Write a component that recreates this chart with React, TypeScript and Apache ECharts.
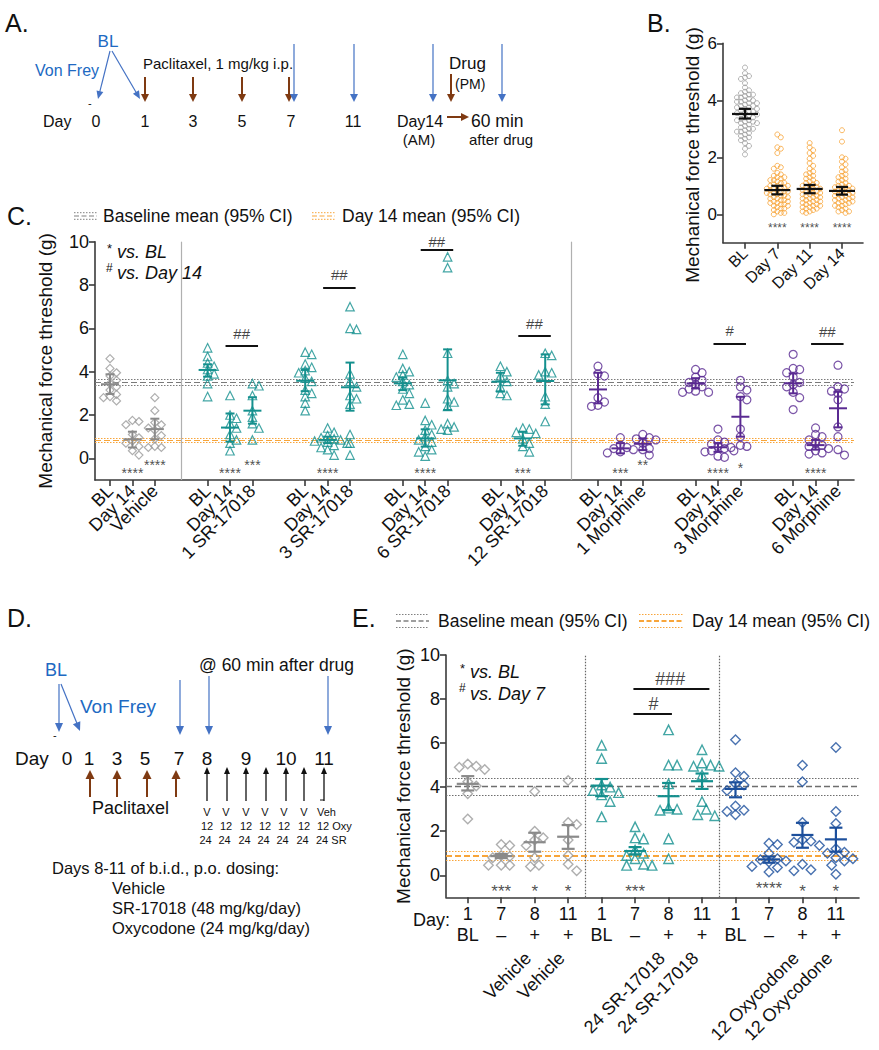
import React, { useEffect, useRef } from 'react';
import * as echarts from 'echarts';

const FONT = 'Liberation Sans, Arial, Helvetica, sans-serif';

// ---------------- Panel B data ----------------
const B_CATS = ['BL', 'Day 7', 'Day 11', 'Day 14'];
const B_BL = [5.15, 4.95, 4.85, 4.8, 4.75, 4.6, 4.45, 4.35, 4.3, 4.25, 4.2, 4.2, 4.15, 4.1, 4.05, 4.0, 4.0, 3.95, 3.9, 3.9, 3.85, 3.8, 3.8, 3.75, 3.7, 3.7, 3.65, 3.6, 3.6, 3.55, 3.5, 3.5, 3.45, 3.4, 3.4, 3.35, 3.3, 3.3, 3.25, 3.2, 3.2, 3.15, 3.1, 3.05, 3.0, 3.0, 2.95, 2.9, 2.85, 2.8, 2.75, 2.7, 2.65, 2.6, 2.5, 2.4, 2.3, 2.1, 3.75, 3.55, 3.25, 2.9, 4.1, 3.95];
const B_D7 = [2.8, 2.7, 2.35, 2.3, 2.15, 1.7, 1.65, 1.6, 1.45, 1.4, 1.35, 1.3, 1.3, 1.25, 1.2, 1.2, 1.15, 1.1, 1.1, 1.05, 1.0, 1.0, 1.0, 0.95, 0.95, 0.9, 0.9, 0.85, 0.85, 0.8, 0.8, 0.8, 0.75, 0.75, 0.7, 0.7, 0.65, 0.65, 0.6, 0.6, 0.55, 0.55, 0.5, 0.5, 0.45, 0.45, 0.4, 0.4, 0.35, 0.35, 0.3, 0.3, 0.25, 0.2, 0.2, 0.15, 0.1, 0.05, 0.05, 0.0];
const B_D11 = [2.5, 2.35, 2.25, 2.15, 2.05, 1.95, 1.8, 1.7, 1.6, 1.5, 1.45, 1.4, 1.35, 1.3, 1.25, 1.2, 1.15, 1.1, 1.1, 1.05, 1.0, 1.0, 0.95, 0.95, 0.9, 0.9, 0.85, 0.85, 0.8, 0.8, 0.75, 0.75, 0.7, 0.7, 0.65, 0.65, 0.6, 0.6, 0.55, 0.55, 0.5, 0.5, 0.45, 0.45, 0.4, 0.4, 0.35, 0.35, 0.3, 0.3, 0.25, 0.25, 0.2, 0.2, 0.15, 0.1, 0.1, 0.05];
const B_D14 = [2.95, 2.55, 2.0, 1.95, 1.85, 1.75, 1.65, 1.55, 1.5, 1.4, 1.35, 1.3, 1.25, 1.2, 1.15, 1.1, 1.05, 1.0, 1.0, 0.95, 0.95, 0.9, 0.9, 0.85, 0.85, 0.8, 0.8, 0.75, 0.75, 0.7, 0.7, 0.65, 0.65, 0.6, 0.6, 0.55, 0.55, 0.5, 0.5, 0.45, 0.45, 0.4, 0.4, 0.35, 0.3, 0.3, 0.25, 0.2, 0.15, 0.1, 0.1, 0.05];
const B_MEAN = [3.52, 0.85, 0.89, 0.82];
const B_LOW = [3.36, 0.7, 0.74, 0.69];
const B_HIGH = [3.7, 1.0, 1.03, 0.96];
const B_STARS = ['', '****', '****', '****'];

// ---------------- Panel C data ----------------
const C_GROUPS = ['Vehicle', '1 SR-17018', '3 SR-17018', '6 SR-17018', '12 SR-17018', '1 Morphine', '3 Morphine', '6 Morphine'];
const C_COLS = ['BL', 'Day 14'];
const C_BL = [
  [4.6, 4.15, 3.95, 3.8, 3.6, 3.45, 3.3, 3.15, 2.95, 2.85, 2.8, 2.65],
  [5.1, 4.7, 4.4, 4.25, 4.1, 3.9, 3.8, 3.45, 2.85],
  [4.9, 4.8, 4.35, 4.2, 4.05, 3.95, 3.7, 3.55, 3.15, 3.0, 2.85, 2.55, 2.2],
  [4.8, 4.15, 4.0, 3.85, 3.75, 3.55, 3.4, 3.2, 3.0, 2.7, 2.5, 2.45],
  [4.25, 4.0, 3.8, 3.55, 3.3, 3.0, 2.9],
  [4.25, 3.9, 3.8, 2.8, 2.6, 2.45, 2.4],
  [4.1, 3.95, 3.75, 3.6, 3.5, 3.4, 3.3, 3.2, 3.1, 3.05, 3.05],
  [4.8, 4.15, 4.1, 3.95, 3.75, 3.5, 3.4, 3.3, 3.05, 2.8, 2.25],
];
const C_D14 = [
  [1.75, 1.7, 1.55, 1.1, 0.95, 0.8, 0.7, 0.55, 0.35, 0.15],
  [2.9, 2.0, 1.85, 1.6, 1.4, 1.1, 0.85, 0.7, 0.35],
  [1.4, 1.2, 1.05, 0.95, 0.9, 0.85, 0.8, 0.75, 0.7, 0.6, 0.5, 0.4, 0.15],
  [2.55, 1.75, 1.55, 1.3, 1.1, 1.0, 0.85, 0.75, 0.55, 0.4, 0.3, 0.1],
  [1.4, 1.35, 1.2, 1.15, 0.9, 0.7, 0.55, 0.3],
  [0.95, 0.6, 0.5, 0.45, 0.4, 0.3, 0.25],
  [1.35, 0.85, 0.75, 0.65, 0.55, 0.5, 0.45, 0.35, 0.3, 0.1, 0.05],
  [1.4, 1.1, 1.0, 0.85, 0.7, 0.6, 0.55, 0.45, 0.35, 0.25, 0.2],
];
const C_DRUG = [
  [2.8, 2.2, 1.65, 1.55, 1.4, 1.3, 1.05, 0.9, 0.55, 0.5, 0.5],
  [3.45, 3.35, 2.9, 2.2, 1.9, 1.6, 1.4, 0.85],
  [7.0, 6.0, 5.95, 3.9, 3.55, 3.3, 2.9, 2.75, 2.5, 1.1, 0.7, 0.15],
  [9.3, 8.8, 4.85, 3.6, 3.45, 3.3, 2.75, 2.6, 2.4, 1.6, 1.45, 1.35, 1.3],
  [4.85, 4.75, 4.0, 3.95, 3.85, 2.85, 2.5, 1.7],
  [1.1, 0.95, 0.9, 0.85, 0.7, 0.45, 0.4, 0.15],
  [3.6, 3.3, 3.15, 2.85, 2.7, 1.35, 1.0, 0.6, 0.55, 0.35],
  [4.3, 3.3, 3.2, 3.1, 3.0, 2.7, 1.45, 1.0, 0.4, 0.15],
];
const C_MEAN = [[3.42, 0.88, 1.35], [4.08, 1.42, 2.2], [3.58, 0.85, 3.28], [3.46, 0.92, 3.6], [3.54, 0.92, 3.57], [3.18, 0.46, 0.67], [3.46, 0.51, 1.92], [3.46, 0.61, 2.31]];
const C_LOW = [[2.97, 0.5, 0.88], [3.77, 0.77, 1.6], [3.1, 0.7, 2.2], [3.15, 0.54, 2.23], [3.08, 0.58, 2.49], [2.54, 0.23, 0.38], [3.23, 0.3, 1.0], [3.0, 0.4, 1.43]];
const C_HIGH = [[3.88, 1.23, 1.83], [4.34, 2.07, 2.82], [4.08, 1.0, 4.42], [3.74, 1.34, 5.03], [3.95, 1.23, 4.8], [3.95, 0.7, 0.92], [3.7, 0.7, 2.84], [3.92, 0.85, 3.07]];
const C_STARS = [['', '****', '****'], ['', '****', '***'], ['', '****', ''], ['', '****', ''], ['', '***', ''], ['', '***', '**'], ['', '****', '*'], ['', '****', '']];
const C_BRACKETS = [
  { g: 1, y: 5.22, ty: 5.76, t: '##' }, { g: 2, y: 7.88, ty: 8.5, t: '##' }, { g: 3, y: 9.62, ty: 10.0, t: '##' },
  { g: 4, y: 5.64, ty: 6.22, t: '##' }, { g: 6, y: 5.31, ty: 5.88, t: '#' }, { g: 7, y: 5.27, ty: 5.84, t: '##' },
];
const C_BASE = { mean: 3.52, lo: 3.38, hi: 3.67 };
const C_D14REF = { mean: 0.84, lo: 0.74, hi: 0.94 };

// ---------------- Panel E data ----------------
const E_GROUPS = ['Vehicle', '24 SR-17018', '12 Oxycodone'];
const E_DAYS = ['1', '7', '8', '11'];
const E_TRT = ['BL', '\u2013', '+', '+'];
const E_VALS = [
  [[5.05, 4.95, 4.9, 4.8, 4.25, 4.05, 3.7, 2.55], [1.4, 1.35, 0.9, 0.85, 0.8, 0.45, 0.45, 0.45], [3.8, 2.0, 1.7, 1.6, 1.35, 0.8, 0.45, 0.4], [4.3, 2.4, 2.3, 1.6, 0.9, 0.5, 0.2]],
  [[5.9, 5.3, 4.1, 4.0, 3.85, 3.75, 3.65, 3.35, 2.65], [2.2, 1.7, 1.65, 1.15, 1.0, 0.9, 0.75, 0.5, 0.45, 0.45], [6.6, 5.0, 5.0, 4.15, 3.05, 3.0, 2.95, 1.65, 0.75], [5.7, 5.1, 5.0, 4.95, 4.95, 4.55, 3.35, 3.0, 2.75, 2.7]],
  [[6.15, 4.65, 4.5, 4.15, 4.1, 3.85, 3.15, 2.95, 2.9, 2.75], [1.45, 1.4, 1.0, 0.75, 0.7, 0.65, 0.6, 0.4, 0.35, 0.15], [5.0, 4.25, 2.4, 1.6, 1.55, 1.5, 1.35, 0.5, 0.25, 0.2], [5.8, 2.9, 2.35, 1.2, 1.05, 1.0, 0.8, 0.75, 0.65, 0.45, 0.05]],
];
const E_MEAN = [[4.15, 0.87, 1.5, 1.75], [4.07, 1.1, 3.59, 4.27], [3.92, 0.72, 1.83, 1.63]];
const E_LOW = [[3.85, 0.78, 1.07, 1.2], [3.59, 0.95, 2.96, 3.92], [3.54, 0.57, 1.25, 1.07]];
const E_HIGH = [[4.5, 0.97, 1.93, 2.28], [4.37, 1.28, 4.19, 4.62], [4.22, 0.85, 2.38, 2.16]];
const E_STARS = [['', '***', '*', '*'], ['', '***', '', ''], ['', '****', '*', '*']];
const E_BRACKETS = [
  { g: 1, c1: 1, c2: 3, y: 8.45, t: '###' },
  { g: 1, c1: 1, c2: 2, y: 7.32, t: '#' },
];
const E_BASE = { mean: 4.03, lo: 3.62, hi: 4.39 };
const E_D7REF = { mean: 0.87, lo: 0.66, hi: 1.07 };

// ---------------- styles ----------------
const GRAY = '#9a9a9a';
const GRAY_BAR = '#8a8a8a';
const TEAL = '#14908e';
const PURPLE = '#5a2a92';
const ORANGE = '#f8a53a';
const OXY = '#1c4f9c';
const AXIS = '#3a3a3a';
const BLUE_T = '#2069c2';
const BLUE_A = '#4472c4';
const BROWN = '#7f3a12';

const C_STEP = 4.355;
const cPos = (g: number, c: number) => g * C_STEP + c;
const ePos = (g: number, c: number) => g * 4 + c;

// beeswarm layout (pixel space) -> data coords
function swarm(vals: number[], cx: number, pxX: number, pxY: number, d: number) {
  const sorted = [...vals].sort((a, b) => b - a);
  const placed: { x: number; y: number }[] = [];
  const out: number[][] = [];
  for (const v of sorted) {
    const py = v * pxY;
    let px = 0;
    for (let i = 0; i < 400; i++) {
      const off = (i === 0 ? 0 : (i % 2 === 1 ? 1 : -1) * Math.ceil(i / 2)) * d * 0.5;
      if (placed.every((p) => Math.hypot(p.x - off, p.y - py) >= d)) { px = off; break; }
    }
    placed.push({ x: px, y: py });
    out.push([cx + px / pxX, v]);
  }
  return out;
}

function scatter(xi: number, yi: number, data: number[][], symbol: string, size: number, color: string, bw = 1.2) {
  return {
    type: 'scatter', xAxisIndex: xi, yAxisIndex: yi, data, symbol, symbolSize: size, silent: true, z: 3, clip: false,
    itemStyle: { color: 'rgba(0,0,0,0)', borderColor: color, borderWidth: bw },
  };
}

function errSeries(xi: number, yi: number, data: number[][], color: string, hw: number, cw: number, lw: number) {
  return {
    type: 'custom', xAxisIndex: xi, yAxisIndex: yi, data, silent: true, z: 5, clip: false,
    renderItem: (_p: any, api: any) => {
      const x = api.value(0), m = api.value(1), lo = api.value(2), hi = api.value(3);
      const a = api.coord([x, m]), b = api.coord([x, lo]), c = api.coord([x, hi]);
      const st = { stroke: color, lineWidth: lw };
      return {
        type: 'group', children: [
          { type: 'line', shape: { x1: a[0] - hw, y1: a[1], x2: a[0] + hw, y2: a[1] }, style: st },
          { type: 'line', shape: { x1: c[0], y1: c[1], x2: b[0], y2: b[1] }, style: st },
          { type: 'line', shape: { x1: c[0] - cw, y1: c[1], x2: c[0] + cw, y2: c[1] }, style: st },
          { type: 'line', shape: { x1: b[0] - cw, y1: b[1], x2: b[0] + cw, y2: b[1] }, style: st },
        ],
      };
    },
  };
}

function textSeries(xi: number, yi: number, items: { x: number; y: number; t: string }[], size: number, color: string, markLine?: any) {
  const s: any = {
    type: 'scatter', xAxisIndex: xi, yAxisIndex: yi, symbolSize: 1, silent: true, z: 6, clip: false,
    itemStyle: { color: 'rgba(0,0,0,0)' },
    data: items.map((it) => ({ value: [it.x, it.y], name: it.t })),
    label: { show: true, position: 'inside', formatter: '{b}', fontSize: size, color, fontFamily: FONT },
  };
  if (markLine) s.markLine = markLine;
  return s;
}

function refLines(ref: { mean: number; lo: number; hi: number }, color: string, w: number) {
  return [
    { yAxis: ref.mean, lineStyle: { color, width: w, type: [6, 3] } },
    { yAxis: ref.lo, lineStyle: { color, width: 1, type: [1.5, 1.5] } },
    { yAxis: ref.hi, lineStyle: { color, width: 1, type: [1.5, 1.5] } },
  ];
}

// ---------------- graphic helpers ----------------
function T(text: string, x: number, y: number, size: number, o: any = {}) {
  return {
    type: 'text', x, y, rotation: o.rot || 0, silent: true, z: 100,
    style: {
      text, fill: o.color || '#111', fontSize: size, fontFamily: FONT,
      fontStyle: o.italic ? 'italic' : 'normal',
      textAlign: o.align || 'left', textVerticalAlign: o.valign || 'middle',
      align: o.align || 'left', verticalAlign: o.valign || 'middle',
    },
  };
}
function L(x1: number, y1: number, x2: number, y2: number, color: string, w = 1, dash?: number[]) {
  const style: any = { stroke: color, lineWidth: w };
  if (dash) style.lineDash = dash;
  return { type: 'line', silent: true, z: 100, shape: { x1, y1, x2, y2 }, style };
}
function ARROW(x1: number, y1: number, x2: number, y2: number, color: string, w = 1.2, hl = 8, hw = 3.5) {
  const dx = x2 - x1, dy = y2 - y1, len = Math.hypot(dx, dy);
  const ux = dx / len, uy = dy / len;
  const bx = x2 - ux * hl, by = y2 - uy * hl;
  const px = -uy, py = ux;
  return [
    L(x1, y1, bx + ux, by + uy, color, w),
    { type: 'polygon', silent: true, z: 100, shape: { points: [[x2, y2], [bx + px * hw, by + py * hw], [bx - px * hw, by - py * hw]] }, style: { fill: color } },
  ];
}
function legendIcon(x1: number, x2: number, y: number, gap: number, color: string, w: number) {
  return [
    L(x1, y - gap, x2, y - gap, color, 1, [1.5, 1.5]),
    L(x1, y, x2, y, color, w, [5, 2.5]),
    L(x1, y + gap, x2, y + gap, color, 1, [1.5, 1.5]),
  ];
}

const Y_NAME = 'Mechanical force threshold (g)';

function buildGraphics() {
  const g: any[] = [];
  // ---- Panel A ----
  g.push(T('A.', 5, 23, 25));
  g.push(T('BL', 108, 41, 17, { color: BLUE_T, align: 'center' }));
  g.push(T('Von Frey', 35, 70, 16, { color: BLUE_T }));
  g.push(...ARROW(110, 51, 98, 99, BLUE_A, 1.2, 8, 3.5));
  g.push(...ARROW(112, 51, 140, 99, BLUE_A, 1.2, 8, 3.5));
  g.push(T('-', 88, 103, 11));
  g.push(T('Day', 43, 121, 16));
  [['0', 96], ['1', 145], ['3', 193], ['5', 242], ['7', 291], ['11', 353]].forEach(([t, x]) => g.push(T(t as string, x as number, 121, 16, { align: 'center' })));
  g.push(T('Day14', 420, 121, 16, { align: 'center' }));
  g.push(T('(AM)', 419, 139, 15, { align: 'center' }));
  g.push(T('Paclitaxel, 1 mg/kg i.p.', 143, 63, 15));
  [145, 193, 242, 289].forEach((x) => g.push(...ARROW(x, 77, x, 102, BROWN, 2, 8, 4)));
  [294, 354, 433, 502].forEach((x) => g.push(...ARROW(x, 44, x, 102, BLUE_A, 1.2, 8, 4)));
  g.push(...ARROW(451, 74, 451, 102, BROWN, 2, 8, 4));
  g.push(T('Drug', 449, 63, 17));
  g.push(T('(PM)', 455, 84, 14));
  g.push(...ARROW(447, 117, 469, 117, BROWN, 2, 8, 4));
  g.push(T('60 min', 471, 121, 17.5));
  g.push(T('after drug', 469, 139, 15));

  // ---- Panel B ----
  g.push(T('B.', 647, 23, 25));
  g.push(T(Y_NAME, 692, 155, 19, { align: 'center', rot: Math.PI / 2 }));

  // ---- Panel C ----
  g.push(T('C.', 7, 216, 25));
  g.push(...legendIcon(74, 97, 216, 3.3, '#808080', 1.2));
  g.push(T('Baseline mean (95% CI)', 103, 216, 17.5));
  g.push(...legendIcon(312, 335, 216, 3.3, ORANGE, 1.2));
  g.push(T('Day 14 mean (95% CI)', 342, 216, 17.5));
  g.push(T('*', 107, 248, 13));
  g.push(T('vs. BL', 117, 252, 18, { italic: true }));
  g.push(T('#', 106, 268, 12));
  g.push(T('vs. Day 14', 117, 273, 18, { italic: true }));

  // ---- Panel D ----
  g.push(T('D.', 7, 618, 25));
  g.push(T('BL', 56, 670, 18, { color: BLUE_T, align: 'center' }));
  g.push(...ARROW(59, 684, 59, 732, BLUE_A, 1.2, 9, 4));
  g.push(...ARROW(61, 684, 80, 731, BLUE_A, 1.2, 9, 4));
  g.push(T('Von Frey', 80, 706, 19, { color: BLUE_T }));
  g.push(T('-', 53, 735, 11));
  g.push(T('@ 60 min after drug', 199, 665, 17.5));
  [180, 209, 328].forEach((x, i) => g.push(...ARROW(x, i === 0 ? 680 : 676, x, 735, BLUE_A, 1.2, 9, 4)));
  g.push(T('Day', 15, 758, 19));
  [['0', 67], ['1', 89], ['3', 117], ['5', 145], ['7', 179], ['8', 207], ['9', 246], ['10', 286], ['11', 324]].forEach(([t, x]) => g.push(T(t as string, x as number, 758, 19, { align: 'center' })));
  [90, 117, 147, 176].forEach((x) => g.push(...ARROW(x, 797, x, 770, BROWN, 2, 9, 4.5)));
  g.push(T('Paclitaxel', 92, 808, 18));
  [207, 227, 246, 266, 286, 304, 324].forEach((x) => g.push(...ARROW(x, 801, x, 767, '#111', 1.3, 7, 3)));
  g.push(L(320, 800, 324, 800, '#111', 1));
  [207, 226, 246, 265, 284, 304].forEach((x) => {
    g.push(T('V', x, 812, 11, { align: 'center' }));
    g.push(T('12', x, 826, 11, { align: 'center' }));
    g.push(T('24', x - 1.5, 840, 11, { align: 'center' }));
  });
  g.push(T('Veh', 317, 812, 11));
  g.push(T('12 Oxy', 317, 826, 11));
  g.push(T('24 SR', 316, 840, 11));
  g.push(T('Days 8-11 of b.i.d., p.o. dosing:', 52, 868, 16.5));
  g.push(T('Vehicle', 112, 888, 16.5));
  g.push(T('SR-17018 (48 mg/kg/day)', 112, 908, 16.5));
  g.push(T('Oxycodone (24 mg/kg/day)', 112, 928, 16.5));

  // ---- Panel E ----
  g.push(T('E.', 352, 618, 25));
  g.push(...legendIcon(396, 429, 621, 6.5, '#808080', 1.5));
  g.push(T('Baseline mean (95% CI)', 438, 621, 17.5));
  g.push(...legendIcon(639, 683, 621, 6.5, ORANGE, 2.2));
  g.push(T('Day 14 mean (95% CI)', 692, 621, 17.5));
  g.push(T('*', 460, 668, 13));
  g.push(T('vs. BL', 470, 672, 18, { italic: true }));
  g.push(T('#', 459, 688, 12));
  g.push(T('vs. Day 7', 470, 694, 18, { italic: true }));
  g.push(T('Day:', 413, 920, 18));
  return g;
}

function buildOption() {
  const series: any[] = [];

  // ---------- Panel B ----------
  const bVals = [B_BL, B_D7, B_D11, B_D14];
  bVals.forEach((vals, i) => {
    series.push(scatter(0, 0, swarm(vals, i, 32.3, 28.5, i === 0 ? 4.0 : 3.5), 'circle', 5, i === 0 ? '#a0a0a0' : ORANGE, 1));
  });
  series.push(errSeries(0, 0, B_MEAN.map((m, i) => [i, m, B_LOW[i], B_HIGH[i]]), '#111', 13, 6, 2.2));
  series.push(textSeries(0, 0, B_STARS.map((t, i) => ({ x: i, y: -0.37 - 0.12, t })).filter((d) => d.t), 12, '#222'));

  // ---------- Panel C ----------
  const cColor = (g: number) => (g === 0 ? GRAY : g <= 4 ? TEAL : PURPLE);
  const cBar = (g: number) => (g === 0 ? GRAY_BAR : g <= 4 ? TEAL : PURPLE);
  const cSym = (g: number) => (g === 0 ? 'diamond' : g <= 4 ? 'triangle' : 'circle');
  const cSize = (g: number) => (g === 0 ? 8 : g <= 4 ? 8.5 : 8);
  C_GROUPS.forEach((_, g) => {
    [C_BL[g], C_D14[g], C_DRUG[g]].forEach((vals, c) => {
      series.push(scatter(1, 1, swarm(vals, cPos(g, c), 22.4, 21.67, 6.5), cSym(g), cSize(g), cColor(g), 1.2));
    });
    series.push(errSeries(1, 1, [0, 1, 2].map((c) => [cPos(g, c), C_MEAN[g][c], C_LOW[g][c], C_HIGH[g][c]]), cBar(g), 9, 4.5, 2));
  });
  const cStarItems: any[] = [];
  C_STARS.forEach((row, g) => row.forEach((t, c) => {
    if (!t) return;
    const y = c === 1 ? -0.54 : t === '*' ? -0.31 : -0.18;
    cStarItems.push({ x: cPos(g, c), y: y - 0.14, t });
  }));
  series.push(textSeries(1, 1, cStarItems, 14, '#222', {
    silent: true, symbol: ['none', 'none'], label: { show: false }, z: 1,
    data: [
      ...refLines(C_BASE, '#7a7a7a', 1.2),
      ...refLines(C_D14REF, ORANGE, 1.2),
      { xAxis: (cPos(0, 2) + cPos(1, 0)) / 2, lineStyle: { color: '#b0b0b0', width: 1.2, type: 'solid' } },
      { xAxis: (cPos(4, 2) + cPos(5, 0)) / 2, lineStyle: { color: '#b0b0b0', width: 1.2, type: 'solid' } },
      ...C_BRACKETS.map((b) => [
        { coord: [cPos(b.g, 1) - 0.2, b.y], lineStyle: { color: '#111', width: 1.8, type: 'solid' } },
        { coord: [cPos(b.g, 2) + 0.25, b.y] },
      ]),
    ],
  }));
  series.push(textSeries(1, 1, C_BRACKETS.map((b) => ({ x: (cPos(b.g, 1) + cPos(b.g, 2)) / 2 + 0.02, y: b.ty, t: b.t })), 15, '#111'));

  // ---------- Panel E ----------
  const eColor = [GRAY, TEAL, OXY];
  const eBar = [GRAY_BAR, TEAL, OXY];
  const eSym = ['diamond', 'triangle', 'diamond'];
  E_GROUPS.forEach((_, g) => {
    E_VALS[g].forEach((vals, c) => {
      series.push(scatter(2, 2, swarm(vals, ePos(g, c), 33.48, 22.1, 8.5), eSym[g], 9.5, eColor[g], 1.4));
    });
    series.push(errSeries(2, 2, [0, 1, 2, 3].map((c) => [ePos(g, c), E_MEAN[g][c], E_LOW[g][c], E_HIGH[g][c]]), eBar[g], 11, 6.5, 2.2));
  });
  const eStarItems: any[] = [];
  E_STARS.forEach((row, g) => row.forEach((t, c) => {
    if (!t) return;
    eStarItems.push({ x: ePos(g, c), y: (t === '****' ? -0.45 : -0.56) - 0.17, t });
  }));
  series.push(textSeries(2, 2, eStarItems, 17, '#222', {
    silent: true, symbol: ['none', 'none'], label: { show: false }, z: 1,
    data: [
      ...refLines(E_BASE, '#6e6e6e', 1.3),
      ...refLines(E_D7REF, ORANGE, 2),
      { xAxis: 3.5, lineStyle: { color: '#666', width: 1.2, type: [1.5, 1.5] } },
      { xAxis: 7.5, lineStyle: { color: '#666', width: 1.2, type: [1.5, 1.5] } },
      ...E_BRACKETS.map((b) => [
        { coord: [ePos(b.g, b.c1) - 0.05, b.y], lineStyle: { color: '#111', width: 1.8, type: 'solid' } },
        { coord: [ePos(b.g, b.c2) + (b.c2 === 3 ? 0.22 : 0.1), b.y] },
      ]),
    ],
  }));
  series.push(textSeries(2, 2, E_BRACKETS.map((b) => ({ x: (ePos(b.g, b.c1) + ePos(b.g, b.c2)) / 2 + 0.05, y: b.y + 0.46, t: b.t })), 18, '#111'));

  const axisLine = { onZero: false, lineStyle: { color: AXIS, width: 1.6 } };
  const axisTickBase = { lineStyle: { color: AXIS, width: 1.6 }, length: 6 };
  const cTickVals: number[] = [];
  C_GROUPS.forEach((_, g) => [0, 1, 2].forEach((c) => cTickVals.push(cPos(g, c))));
  const cColLabel = (c: number) => (v: number) => {
    const g = Math.round((v - c) / C_STEP);
    return c < 2 ? C_COLS[c] : C_GROUPS[g] || '';
  };
  const eTicks = Array.from({ length: 12 }, (_, i) => i);
  const eNameVals = [1.8, 2.8, 5.8, 6.8, 9.8, 10.8];
  const lblCommon = { showMinLabel: true, showMaxLabel: true, hideOverlap: false };

  // label-only x axes for panel C (one per column type, so neighbours never collide)
  const cLabelAxes = [0, 1, 2].map((c) => ({
    type: 'value', gridIndex: 1, min: -0.67, max: 33.2, position: 'bottom', offset: 0,
    splitLine: { show: false }, axisLine: { show: false, onZero: false }, axisTick: { show: false },
    axisLabel: {
      ...lblCommon, customValues: C_GROUPS.map((_, g) => cPos(g, c)), rotate: 45, fontSize: 18, color: '#111', margin: 8,
      formatter: cColLabel(c),
    },
  }));

  return {
    animation: false,
    backgroundColor: '#ffffff',
    textStyle: { fontFamily: FONT },
    grid: [
      { left: 723, top: 43.3, width: 140, height: 199.5 },
      { left: 95, top: 241.7, width: 759, height: 238.3 },
      { left: 446, top: 655, width: 413, height: 242.3 },
    ],
    xAxis: [
      {
        type: 'value', gridIndex: 0, min: -0.68, max: 3.65, position: 'bottom', splitLine: { show: false }, axisLine,
        axisTick: { ...axisTickBase, customValues: [0, 1, 2, 3] },
        axisLabel: { ...lblCommon, customValues: [0, 1, 2, 3], rotate: 45, fontSize: 16, color: '#111', margin: 8, formatter: (v: number) => B_CATS[Math.round(v)] || '' },
      },
      {
        type: 'value', gridIndex: 1, min: -0.67, max: 33.2, position: 'bottom', splitLine: { show: false }, axisLine,
        axisTick: { ...axisTickBase, customValues: cTickVals },
        axisLabel: { show: false },
      },
      {
        type: 'value', gridIndex: 2, min: -0.65, max: 11.69, position: 'bottom', splitLine: { show: false }, axisLine,
        axisTick: { ...axisTickBase, customValues: eTicks },
        axisLabel: {
          ...lblCommon, customValues: eTicks, fontSize: 18, color: '#111', margin: 6, lineHeight: 21,
          formatter: (v: number) => { const c = Math.round(v) % 4; return E_DAYS[c] + '\n' + E_TRT[c]; },
        },
      },
      {
        type: 'value', gridIndex: 2, min: -0.65, max: 11.69, position: 'bottom', offset: 52,
        splitLine: { show: false }, axisLine: { show: false, onZero: false }, axisTick: { show: false },
        axisLabel: {
          ...lblCommon, customValues: eNameVals, rotate: 45, fontSize: 18, color: '#111', margin: 6,
          formatter: (v: number) => E_GROUPS[Math.floor((v + 0.5) / 4)] || '',
        },
      },
      ...cLabelAxes,
    ],
    yAxis: [
      {
        type: 'value', gridIndex: 0, min: -1, max: 6, splitLine: { show: false }, axisLine,
        axisTick: { ...axisTickBase, customValues: [0, 2, 4, 6] },
        axisLabel: { ...lblCommon, customValues: [0, 2, 4, 6], fontSize: 17, color: '#111', margin: 6 },
      },
      {
        type: 'value', gridIndex: 1, min: -1, max: 10, splitLine: { show: false }, axisLine,
        axisTick: { ...axisTickBase, customValues: [0, 2, 4, 6, 8, 10] },
        axisLabel: { ...lblCommon, customValues: [0, 2, 4, 6, 8, 10], fontSize: 18, color: '#111', margin: 6 },
        name: Y_NAME, nameLocation: 'middle', nameGap: 40, nameTextStyle: { fontSize: 19, color: '#111', fontFamily: FONT },
      },
      {
        type: 'value', gridIndex: 2, min: -1, max: 10, splitLine: { show: false }, axisLine,
        axisTick: { ...axisTickBase, customValues: [0, 2, 4, 6, 8, 10] },
        axisLabel: { ...lblCommon, customValues: [0, 2, 4, 6, 8, 10], fontSize: 18, color: '#111', margin: 6 },
        name: Y_NAME, nameLocation: 'middle', nameGap: 33, nameTextStyle: { fontSize: 19, color: '#111', fontFamily: FONT },
      },
    ],
    series,
    graphic: { elements: buildGraphics() },
  };
}

export default function App() {
  const ref = useRef<HTMLDivElement>(null);
  useEffect(() => {
    const chart = echarts.init(ref.current as HTMLDivElement, null, { renderer: 'svg' });
    chart.setOption(buildOption() as any);
    return () => chart.dispose();
  }, []);
  return <div ref={ref} style={{ position: 'absolute', left: 0, top: 0, width: 879, height: 1050, background: '#fff' }} />;
}
